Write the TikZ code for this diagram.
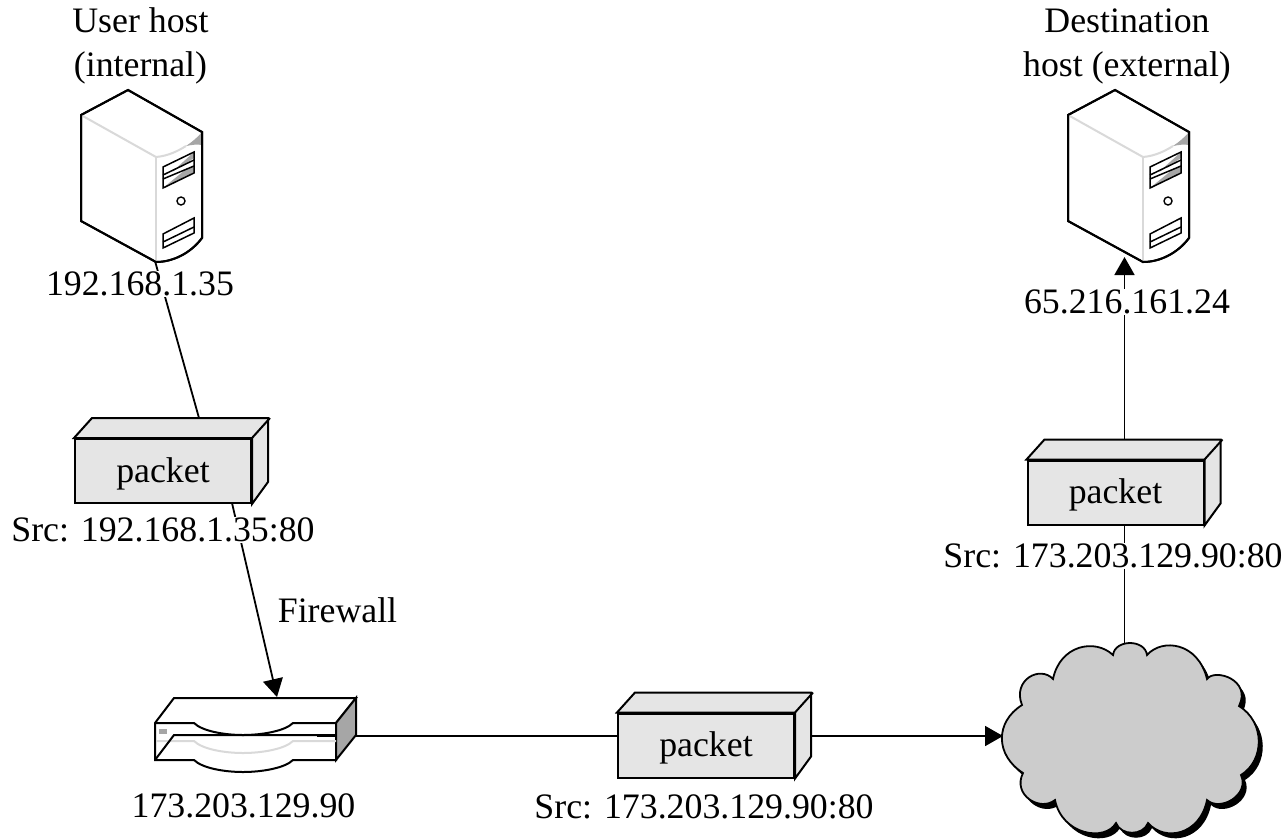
\documentclass[tikz,border=0pt]{standalone}
\usepackage{fontspec}
\setmainfont{Liberation Serif}
\usetikzlibrary{arrows.meta}
\definecolor{boxgray}{HTML}{E5E5E5}
\definecolor{cloudgray}{HTML}{CCCCCC}
\definecolor{edgegray}{HTML}{D9D9D9}
\definecolor{sidegray}{HTML}{A6A6A6}
\begin{document}
\begin{tikzpicture}[x=1pt, y=-1pt, line width=2pt, line join=miter,
  lbl/.style={inner sep=0pt, align=center, fill=white, text depth=2pt, font=\fontsize{35.8}{44}\selectfont},
  hostname/.style={inner sep=0pt, align=center, font=\fontsize{35.8}{44}\selectfont},
  packet/.style={draw, fill=boxgray, rectangle, inner sep=0pt, minimum width=176pt, minimum height=64pt, text height=24.6pt, text depth=2pt, font=\fontsize{35.8}{44}\selectfont},
  link/.style={line width=1.8pt},
  arrowlink/.style={link, -{Triangle[length=18pt, width=20pt]}},
  pics/server/.style={code={
    \draw[fill=white] (128,90) -- (202,132) -- (202,238) .. controls (190,254) and (172,262) .. (156,262) -- (81,221) -- (81,115) -- cycle;
    \fill[sidegray] (186,146) .. controls (192,142) and (198,137) .. (202,132) -- (202,145) .. controls (197,144) and (191,145) .. cycle;
    \draw[edgegray] (81,115) -- (156,157) .. controls (168,156) and (178,151) .. (186,146);
    \draw[edgegray] (156,157) -- (156,262);
    \fill[sidegray] (163,188) -- (185,170) -- (194,166) -- (194,173) -- cycle;
    \fill[sidegray] (172,172) -- (194,158) -- (194,152) -- cycle;
    \draw[line width=1.5pt, fill=none] (163,167) -- (194,152) -- (194,173) -- (163,188) -- cycle;
    \draw[line width=1.5pt] (163,175) -- (194,160) (163,179) -- (194,166);
    \draw[line width=1.5pt] (163,234) -- (194,218) -- (194,233) -- (163,248) -- cycle;
    \draw[line width=1.5pt] (163,242) -- (194,227);
    \draw[line width=1.4pt] (181,201) circle (4);
    \draw[line width=2pt] (128,90) -- (202,132) -- (202,238) .. controls (190,254) and (172,262) .. (156,262) -- (81,221) -- (81,115) -- cycle;
  }}
]
\useasboundingbox (0,0) rectangle (1287,839);
\coordinate (usrbase) at (155,261);
\coordinate (pktatop) at (199,418);
\coordinate (pktabot) at (232,503);
\coordinate (fwtop) at (277,697);
\coordinate (fwright) at (356,736);
\coordinate (pktbleft) at (618,736);
\coordinate (pktbright) at (812,736);
\coordinate (cldleft) at (1003,736);
\coordinate (cldtop) at (1124.5,644);
\coordinate (pktctop) at (1124.5,440);
\coordinate (pktcbot) at (1124.5,525);
\coordinate (dstbase) at (1124.5,257);
% hosts
\pic (usr) at (0,0) {server};
\pic (dst) at (987,0) {server};
\node[hostname] (usrname) at (140.5,46) {User host\\(internal)};
\node[hostname] (dstname) at (1127,46) {Destination\\host (external)};
% links
\draw[link] (usrbase) -- (pktatop);
\draw[arrowlink] (pktabot) -- (fwtop);
\draw[arrowlink] (pktctop) -- (dstbase);
\draw[link] (fwright) -- (pktbleft);
\draw[arrowlink] (pktbright) -- (cldleft);
\draw[link] (pktcbot) -- (cldtop);
% packets
\node[packet] (pkta) at (163,471) {packet};
\node[packet] (pktb) at (706,745.5) {packet};
\node[packet] (pktc) at (1115.5,492.5) {packet};
\foreach \p in {pkta,pktb,pktc} {
  \draw[fill=boxgray] (\p.north west) -- ++(18,-20) -- ++(176,0) -- ++(0,64) -- (\p.south east) -- (\p.north east) -- cycle;
  \draw (\p.north east) -- ++(18,-20);
}
% labels
\node[lbl, anchor=base] (usraddr) at (140,295) {192.168.1.35};
\node[lbl, anchor=base] (dstaddr) at (1127,313) {65.216.161.24};
\node[lbl, anchor=base] (srca) at (163,541) {Src: 192.168.1.35:80};
\node[lbl, anchor=base] (srcc) at (1113,567) {Src: 173.203.129.90:80};
\node[lbl, anchor=base] (srcb) at (704,818) {Src: 173.203.129.90:80};
\node[lbl, anchor=base] (fwname) at (337.5,622) {Firewall};
\node[lbl, anchor=base] (fwaddr) at (243.5,817) {173.203.129.90};
% firewall
\draw[fill=white] (155,723) -- (174,698) -- (356,698) -- (336,723) -- (336,760) -- (293,760) .. controls (285,768) and (262,772) .. (243,772) .. controls (224,772) and (202,768) .. (194,760) -- (155,760) -- cycle;
\draw[fill=sidegray] (336,723) -- (356,698) -- (356,735) -- (336,760) -- cycle;
\fill[sidegray] (159,729) rectangle (167,734);
\draw[edgegray] (155,741) -- (194,741) .. controls (202,749) and (224,753) .. (243,753) .. controls (262,753) and (285,749) .. (293,741) -- (336,741);
\draw (155,760) -- (174,735) -- (336,735);
\draw[line width=2.6pt] (317,736) -- (336,736);
\draw[fill=white] (155,723) -- (194,723) .. controls (202,731) and (224,735) .. (243,735) .. controls (262,735) and (285,731) .. (293,723) -- (336,723);
\draw (155,723) -- (155,760);
% cloud
\path[fill=black, shift={(4,5)}] (1113,655) .. controls (1115,639) and (1145,639) .. (1147,655) .. controls (1162,638) and (1198,642) .. (1207,679) .. controls (1215,668) and (1252,680) .. (1239,706) .. controls (1265,722) and (1265,760) .. (1241,775) .. controls (1250,795) and (1220,812) .. (1207,800) .. controls (1200,835) and (1165,842) .. (1148,823) .. controls (1143,836) and (1121,836) .. (1116,823) .. controls (1105,842) and (1062,835) .. (1055,800) .. controls (1040,812) and (1012,795) .. (1023,773) .. controls (995,755) and (995,722) .. (1022,705) .. controls (1012,680) and (1040,665) .. (1053,679) .. controls (1060,645) and (1095,638) .. (1113,655) -- cycle;
\draw[fill=cloudgray, line width=1.8pt] (1113,655) .. controls (1115,639) and (1145,639) .. (1147,655) .. controls (1162,638) and (1198,642) .. (1207,679) .. controls (1215,668) and (1252,680) .. (1239,706) .. controls (1265,722) and (1265,760) .. (1241,775) .. controls (1250,795) and (1220,812) .. (1207,800) .. controls (1200,835) and (1165,842) .. (1148,823) .. controls (1143,836) and (1121,836) .. (1116,823) .. controls (1105,842) and (1062,835) .. (1055,800) .. controls (1040,812) and (1012,795) .. (1023,773) .. controls (995,755) and (995,722) .. (1022,705) .. controls (1012,680) and (1040,665) .. (1053,679) .. controls (1060,645) and (1095,638) .. (1113,655) -- cycle;
\end{tikzpicture}
\end{document}
